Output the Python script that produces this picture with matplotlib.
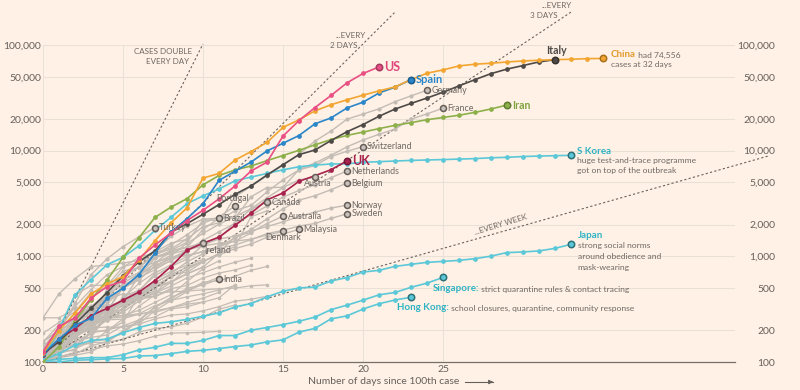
import matplotlib.pyplot as plt
from matplotlib.ticker import FixedLocator

plt.rcParams['font.family'] = ['Lato', 'DejaVu Sans']

# cumulative confirmed cases, index = days since 100th case
china = [121, 198, 291, 440, 548, 643, 920, 1406, 2075, 2877, 5509, 6087, 8141, 9802,
         11970, 16600, 19600, 23800, 27200, 30300, 33500, 36800, 40100, 47000, 54100,
         58100, 63400, 65800, 67200, 69100, 70600, 71700, 72700, 73300, 74300, 74556]
italy = [120, 155, 229, 322, 453, 655, 888, 1128, 1694, 2036, 2502, 3089, 3858, 4636,
         5883, 7375, 9172, 10149, 12462, 15113, 17660, 21157, 24747, 27980, 31506,
         35713, 41035, 47021, 53578, 59138, 63927, 69176, 72700]
us = [125, 217, 262, 402, 518, 583, 959, 1281, 1663, 2179, 2727, 3499, 4632, 6421,
      7783, 13747, 19273, 25600, 33276, 43847, 53740, 62000]
spain = [120, 165, 222, 259, 400, 500, 673, 1073, 1695, 2277, 3146, 5232, 6391, 7798,
         9942, 11748, 13910, 17963, 20410, 25374, 28768, 35136, 39885, 47000]
iran = [100, 139, 245, 388, 593, 978, 1501, 2336, 2922, 3513, 4747, 5823, 6566, 7161,
        8042, 9000, 10075, 11364, 12729, 13938, 14991, 16169, 17361, 18407, 19644,
        20610, 21638, 23049, 24811, 27017]
uk = [116, 164, 207, 274, 322, 384, 459, 590, 801, 1143, 1330, 1520, 1960, 2560, 3420,
      3980, 5130, 5800, 6600, 8000]
s_korea = [104, 204, 433, 602, 833, 977, 1261, 1766, 2337, 3150, 3736, 4335, 5186, 5621,
           6088, 6593, 7041, 7314, 7478, 7513, 7755, 7869, 7979, 8086, 8162, 8236, 8320,
           8413, 8565, 8652, 8799, 8897, 8961, 9037]
japan = [105, 120, 144, 160, 165, 189, 212, 232, 240, 253, 271, 292, 332, 357, 413, 467,
         502, 512, 584, 630, 710, 737, 803, 840, 877, 895, 916, 950, 1005, 1085, 1100,
         1125, 1190, 1300]
singapore = [102, 106, 108, 110, 110, 117, 130, 138, 150, 150, 160, 178, 178, 200, 212,
             226, 243, 266, 313, 345, 385, 432, 455, 509, 558, 631]
hong_kong = [100, 100, 104, 105, 107, 108, 114, 115, 120, 126, 129, 134, 140, 145, 155,
             162, 192, 208, 256, 273, 317, 356, 386, 410]

# labelled grey countries
germany = [130, 159, 196, 262, 482, 670, 799, 1040, 1176, 1457, 1908, 2078, 3675, 4585,
           5795, 7272, 9257, 12327, 15320, 19848, 22213, 24873, 29056, 32986, 37323]
france = [100, 130, 191, 204, 288, 380, 656, 957, 1136, 1219, 1794, 2293, 2293, 3661,
          4469, 4499, 6633, 7652, 9043, 10871, 12612, 14282, 16018, 19856, 22304, 25233]
switzerland = [114, 214, 268, 337, 374, 491, 652, 858, 1139, 1359, 2200, 2200, 2700,
               3028, 4075, 5294, 6575, 7245, 8795, 9877, 10897]
netherlands = [128, 188, 265, 321, 382, 503, 614, 804, 959, 1135, 1413, 1705, 2051, 2460,
               2994, 3631, 4204, 4749, 5560, 6412]
belgium = [109, 169, 200, 239, 267, 314, 399, 559, 689, 886, 1058, 1243, 1486, 1795,
           2257, 2815, 3401, 3743, 4269, 4937]
austria = [104, 131, 182, 246, 302, 504, 655, 860, 1018, 1332, 1646, 2013, 2388, 2814,
           3582, 4474, 5283, 5588]
canada = [108, 117, 193, 198, 252, 415, 478, 657, 800, 943, 1277, 1469, 2088, 2790, 3251]
portugal = [112, 169, 245, 331, 448, 642, 785, 1020, 1280, 1600, 2060, 2362, 2995]
brazil = [121, 200, 234, 291, 428, 621, 904, 1128, 1546, 1924, 2247, 2300]
turkey = [100, 191, 359, 670, 947, 1236, 1529, 1872]
ireland = [100, 129, 169, 223, 292, 557, 683, 785, 906, 1125, 1329]
india = [102, 113, 119, 142, 156, 194, 244, 330, 396, 499, 536, 606]
australia = [107, 128, 128, 200, 250, 297, 377, 452, 568, 681, 791, 1071, 1549, 1682,
             2044, 2400]
malaysia = [117, 129, 149, 149, 197, 238, 428, 566, 673, 790, 900, 1030, 1183, 1306,
            1518, 1624, 1800]
denmark = [262, 442, 615, 801, 827, 864, 914, 977, 1057, 1151, 1255, 1326, 1395, 1450,
           1591, 1720]
norway = [108, 147, 176, 205, 400, 598, 702, 996, 1090, 1221, 1333, 1463, 1550, 1746,
          1914, 2118, 2385, 2621, 2863, 3050]
sweden = [137, 161, 203, 248, 355, 500, 599, 814, 961, 1022, 1103, 1190, 1279, 1439,
          1639, 1763, 1934, 2046, 2286, 2526]

# unlabelled background countries
others = [
    [117, 190, 228, 331, 331, 387, 418, 418, 495, 530, 624, 695, 743, 821],
    [109, 131, 143, 193, 250, 255, 337, 433, 677, 705, 883, 1071, 1238, 2369, 2693],
    [116, 141, 189, 253, 298, 396, 464, 694, 833, 995, 1120, 1236, 1394, 1654],
    [155, 225, 244, 277, 321, 336, 400, 450, 523, 626, 700, 792, 880, 958],
    [103, 134, 156, 171, 180, 220, 250, 330, 409, 473, 568, 588, 648, 737, 802],
    [262, 262, 320, 337, 401, 439, 439, 452, 460, 470, 481, 494, 501, 526, 537],
    [110, 195, 195, 211, 214, 214, 228, 256, 278, 285, 305, 334, 377, 392, 419],
    [141, 181, 219, 253, 275, 275, 286, 341, 383, 414, 442, 480, 528],
    [135, 171, 205, 225, 258, 267, 283, 306, 326, 352, 369, 405, 538],
    [110, 150, 196, 196, 196, 256, 285, 294, 327, 366, 402, 456],
    [101, 110, 116, 124, 154, 164, 192, 208, 214, 233, 266, 316, 346],
    [104, 112, 123, 130, 142, 148, 159, 176, 188, 189, 191, 195],
    [110, 120, 133, 157, 163, 187, 248, 267, 318, 333, 368],
    [103, 118, 171, 171, 274, 344, 392, 511, 562, 767, 900],
    [113, 140, 140, 153, 153, 198, 248, 333],
    [156, 201, 238, 238, 434, 537, 632, 746, 922, 1142],
    [103, 119, 177, 238, 251, 355, 425, 536, 634, 749, 901, 1051],
    [123, 131, 158, 184, 260, 277, 308, 367, 433, 576, 762, 906],
    [117, 134, 172, 227, 311, 369, 450, 514, 579, 686, 790],
    [114, 147, 177, 212, 272, 322, 411, 599, 721, 827, 934],
    [111, 140, 142, 187, 202, 217, 230, 307, 380, 462, 552, 636],
    [187, 237, 299, 454, 501, 730, 776, 875, 972, 1063],
    [140, 203, 335, 484, 670, 798, 875, 1099, 1333, 1453],
    [155, 199, 426, 532, 532, 789, 981, 1082, 1211],
    [117, 145, 234, 234, 318, 363, 395, 416, 480],
    [118, 164, 203, 251, 316, 367, 405, 475],
    [109, 137, 200, 313, 345, 345, 443, 558],
    [114, 147, 199, 253, 306, 367, 438, 495, 658],
    [116, 150, 202, 240, 274, 402, 554, 709],
    [102, 128, 196, 231, 277, 378, 470],
    [128, 158, 266, 301, 387],
    [105, 128, 206, 254, 315, 382, 442],
    [103, 135, 171, 222, 249, 303],
]

y_ticks = [100, 200, 500, 1000, 2000, 5000, 10000, 20000, 50000, 100000]
x_ticks = [0, 5, 10, 15, 20, 25]

BG = '#FFF1E5'
GRID = '#EBE0D6'
TXT = '#66605C'
GREY = '#C3BCB5'
GREY_TXT = '#6E6864'
CYAN = '#5BC8D8'
CYAN_TXT = '#2EB3C4'

W, H = 800, 390
fig = plt.figure(figsize=(8, 3.9), dpi=100, facecolor=BG)
ax = fig.add_axes([43 / W, 1 - 362 / H, (735 - 43) / W, (362 - 45) / H])
ax.set_facecolor(BG)
ax.set_yscale('log')
ax.set_xlim(0, (735 - 43) / 16)
ax.set_ylim(100, 100000)

ax.yaxis.set_major_locator(FixedLocator(y_ticks))
ax.yaxis.set_minor_locator(FixedLocator([]))
ax.set_yticklabels(['{:,}'.format(v) for v in y_ticks])
ax.xaxis.set_major_locator(FixedLocator(x_ticks))
ax.tick_params(axis='both', length=0, colors=TXT, labelsize=7.5)
ax.tick_params(axis='y', pad=1.4)
ax.tick_params(axis='x', pad=2)
ax.grid(True, color=GRID, lw=0.8, zorder=0)
for s in ['top', 'right', 'left']:
    ax.spines[s].set_visible(False)
ax.spines['bottom'].set_color('#77706A')
ax.spines['bottom'].set_linewidth(0.9)

ax2 = ax.twinx()
ax2.set_yscale('log')
ax2.set_ylim(100, 100000)
ax2.yaxis.set_major_locator(FixedLocator(y_ticks))
ax2.yaxis.set_minor_locator(FixedLocator([]))
ax2.set_yticklabels(['{:,}'.format(v) for v in y_ticks])
ax2.tick_params(axis='y', length=0, colors=TXT, labelsize=7.5, pad=28.8)
for lb in ax2.get_yticklabels():
    lb.set_ha('right')
for s in ax2.spines.values():
    s.set_visible(False)


def days(vals):
    return list(range(len(vals)))


# doubling reference lines
dot = dict(color='#6A635E', lw=0.8, ls=(0, (2, 2)), zorder=2.5, clip_on=False)
for period, end in [(1, 10), (2, 22), (3, 33), (7, 45.3)]:
    ax.plot([0, end], [100, 100 * 2 ** (end / period)], **dot)

for vals in others:
    ax.plot(days(vals), vals, color=GREY, lw=0.9, marker='o', ms=1.6, zorder=2)

grey_named = [
    (germany, 'Germany', 4.5, 0, 'left'), (france, 'France', 4.5, 0, 'left'),
    (switzerland, 'Switzerland', 4, 0, 'left'), (netherlands, 'Netherlands', 4.5, 0, 'left'),
    (belgium, 'Belgium', 4.5, 0, 'left'), (austria, 'Austria', 3, 6.5, 'center'),
    (canada, 'Canada', 4.5, 0, 'left'), (portugal, 'Portugal', -2.5, -7, 'center'),
    (brazil, 'Brazil', 4, 0, 'left'), (turkey, 'Turkey', 4, 0, 'left'),
    (ireland, 'Ireland', 15, 7.5, 'center'), (india, 'India', 4, 0, 'left'),
    (australia, 'Australia', 4.5, 0, 'left'), (malaysia, 'Malaysia', 4, 0, 'left'),
    (denmark, 'Denmark', 0.5, 6.5, 'center'), (norway, 'Norway', 4.5, 0, 'left'),
    (sweden, 'Sweden', 4.5, 0, 'left'),
]


def label(x, y, s, dx, dy, **kw):
    # offsets in pixels, dy positive = downwards
    return ax.annotate(s, (x, y), xytext=(dx * 0.72, -dy * 0.72),
                       textcoords='offset points', va='center', **kw)


for vals, name, dx, dy, ha in grey_named:
    d = days(vals)
    ax.plot(d, vals, color=GREY, lw=1.0, marker='o', ms=2, zorder=3)
    ax.plot(d[-1], vals[-1], 'o', ms=4.3, mfc='#C9C1BA', mec='#645D58', mew=1.1, zorder=6)
    label(d[-1], vals[-1], name, dx, dy, ha=ha, fontsize=6.4, color=GREY_TXT, zorder=7)

main = [
    (hong_kong, CYAN, '#2D6F78'), (singapore, CYAN, '#2D6F78'), (japan, CYAN, '#2D6F78'),
    (s_korea, CYAN, '#2D6F78'), (iran, '#8DB04A', '#5E7A30'), (uk, '#A8224E', '#6E1535'),
    (italy, '#4E4A47', '#353230'), (spain, '#2A86C8', '#1A5A8A'),
    (china, '#F2A531', '#A8701D'), (us, '#EA4F83', '#A33760'),
]
for vals, col, edge in main:
    d = days(vals)
    ax.plot(d, vals, color=col, lw=1.2, marker='o', ms=2.4, zorder=4)
    ax.plot(d[-1], vals[-1], 'o', ms=4.6, mfc=col, mec=edge, mew=1.1, zorder=6)

bold = dict(fontweight='bold', zorder=7)
label(len(us) - 1, us[-1], 'US', 5, 0, ha='left', fontsize=9, color='#E2457A', **bold)
label(len(spain) - 1, spain[-1], 'Spain', 4.5, 0, ha='left', fontsize=8, color='#2A86C8', **bold)
label(len(uk) - 1, uk[-1], 'UK', 5, 0, ha='left', fontsize=9, color='#A8224E', **bold)
label(len(iran) - 1, iran[-1], 'Iran', 5, 0, ha='left', fontsize=7.6, color='#7FA33C', **bold)
label(len(italy) - 1, italy[-1], 'Italy', 1.5, -9, ha='center', fontsize=7.6, color='#4E4A47', **bold)

desc = dict(fontsize=6.1, color=GREY_TXT, zorder=7)
t = label(len(china) - 1, china[-1], 'China', 7.7, -4.3, ha='left', fontsize=7,
          color='#E39B2F', **bold)
ax.annotate(' had 74,556', xy=(1, 0), xycoords=t, va='bottom', ha='left', **desc)
label(len(china) - 1, china[-1], 'cases at 32 days', 7.7, 5.7, ha='left', **desc)

label(len(s_korea) - 1, s_korea[-1], 'S Korea', 6.3, -4.3, ha='left', fontsize=7,
      color=CYAN_TXT, **bold)
label(len(s_korea) - 1, s_korea[-1], 'huge test-and-trace programme', 6.3, 5.3, ha='left', **desc)
label(len(s_korea) - 1, s_korea[-1], 'got on top of the outbreak', 6.3, 15.3, ha='left', **desc)

label(len(japan) - 1, japan[-1], 'Japan', 6.7, -9, ha='left', fontsize=7, color=CYAN_TXT, **bold)
for i, line in enumerate(['strong social norms', 'around obedience and', 'mask-wearing']):
    label(len(japan) - 1, japan[-1], line, 6.7, 1.7 + 10.9 * i, ha='left', **desc)

t = label(len(singapore) - 1, singapore[-1], 'Singapore:', -10.3, 11, ha='left',
          fontsize=7, color=CYAN_TXT, **bold)
ax.annotate(' strict quarantine rules & contact tracing', xy=(1, 0), xycoords=t,
            va='bottom', ha='left', **desc)
t = label(len(hong_kong) - 1, hong_kong[-1], 'Hong Kong:', -14, 10, ha='left',
          fontsize=7, color=CYAN_TXT, **bold)
ax.annotate(' school closures, quarantine, community response', xy=(1, 0), xycoords=t,
            va='bottom', ha='left', **desc)

# reference line captions (figure pixel positions)
cap = dict(fontsize=5.8, color=GREY_TXT, va='center')
fig.text(192 / W, 1 - 51.5 / H, 'CASES DOUBLE', ha='right', **cap)
fig.text(189 / W, 1 - 61.5 / H, 'EVERY DAY', ha='right', **cap)
fig.text(366 / W, 1 - 35 / H, '...EVERY', ha='right', **cap)
fig.text(357 / W, 1 - 46 / H, '2 DAYS', ha='right', **cap)
fig.text(572 / W, 1 - 5.5 / H, '...EVERY', ha='right', **cap)
fig.text(558 / W, 1 - 15 / H, '3 DAYS', ha='right', **cap)
fig.text(501 / W, 1 - 225 / H, '...EVERY WEEK', ha='center', rotation=17,
         rotation_mode='anchor', **cap)

fig.text(308 / W, 1 - 382 / H, 'Number of days since 100th case', ha='left', va='center',
         fontsize=7.5, color=TXT)
fig.add_artist(plt.Line2D([465 / W, 493 / W], [1 - 382 / H, 1 - 382 / H], color=TXT, lw=0.8))
ax.annotate('', xy=(496, H - 382), xytext=(488, H - 382), xycoords='figure pixels',
            textcoords='figure pixels',
            arrowprops=dict(arrowstyle='-|>', color=TXT, lw=0.8, mutation_scale=6))

fig.savefig('out.png', dpi=100, facecolor=BG)
